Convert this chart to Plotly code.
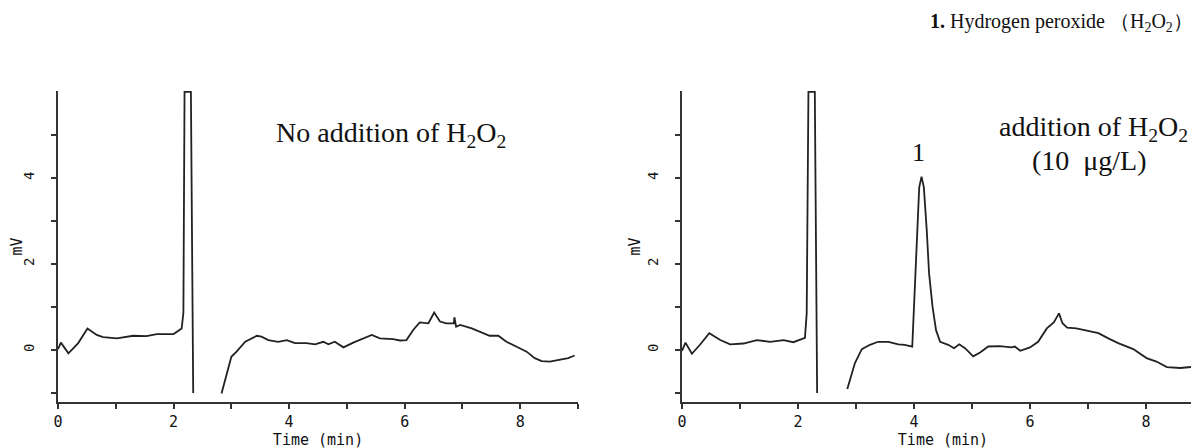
import plotly.graph_objs as go

# Chromatogram without H2O2 (time in min, signal in mV); None = off-scale gap
left_time = [0, 0.05, 0.18, 0.35, 0.51, 0.67, 0.78, 1.02, 1.3, 1.53, 1.71, 2.0, 2.14, 2.17, 2.19, 2.30, 2.34,
             2.6,
             2.83, 3.0, 3.09, 3.24, 3.44, 3.52, 3.64, 3.81, 3.96, 4.10, 4.30, 4.45, 4.59, 4.68, 4.79, 4.94,
             5.11, 5.28, 5.43, 5.57, 5.80, 5.92, 6.03, 6.15, 6.26, 6.41, 6.51, 6.61, 6.72, 6.85, 6.86, 6.89,
             6.96, 7.16, 7.30, 7.47, 7.62, 7.76, 7.99, 8.11, 8.25, 8.37, 8.51, 8.71, 8.83, 8.94]
left_mv = [0.02, 0.17, -0.08, 0.16, 0.5, 0.35, 0.3, 0.27, 0.33, 0.32, 0.37, 0.37, 0.5, 0.86, 6.0, 6.0, -1.0,
           None,
           -1.01, -0.16, -0.04, 0.19, 0.33, 0.31, 0.23, 0.19, 0.23, 0.16, 0.16, 0.13, 0.19, 0.13, 0.19, 0.06,
           0.17, 0.27, 0.35, 0.27, 0.25, 0.22, 0.23, 0.47, 0.64, 0.62, 0.87, 0.66, 0.62, 0.62, 0.76, 0.54,
           0.58, 0.50, 0.43, 0.33, 0.33, 0.19, 0.04, -0.04, -0.19, -0.26, -0.27, -0.23, -0.19, -0.13]

# Chromatogram with H2O2 added (10 ug/L)
right_time = [0, 0.06, 0.17, 0.31, 0.47, 0.66, 0.83, 1.06, 1.29, 1.52, 1.75, 1.92, 2.12, 2.15, 2.18, 2.29, 2.33,
              2.6,
              2.85, 2.98, 3.10, 3.24, 3.38, 3.56, 3.73, 3.84, 3.97, 4.02, 4.06, 4.09, 4.13, 4.17, 4.22, 4.26,
              4.32, 4.38, 4.45, 4.59, 4.69, 4.78, 4.88, 5.02, 5.14, 5.28, 5.48, 5.68, 5.74, 5.83, 6.0, 6.14,
              6.29, 6.41, 6.50, 6.56, 6.64, 6.80, 6.98, 7.18, 7.35, 7.52, 7.78, 8.01, 8.18, 8.36, 8.59, 8.82, 8.95]
right_mv = [-0.02, 0.17, -0.09, 0.12, 0.39, 0.23, 0.13, 0.15, 0.23, 0.19, 0.23, 0.18, 0.28, 0.85, 6.0, 6.0, -1.0,
            None,
            -0.91, -0.31, 0.02, 0.12, 0.19, 0.19, 0.13, 0.12, 0.08, 1.62, 3.16, 3.78, 4.03, 3.78, 2.78, 1.78,
            1.0, 0.46, 0.19, 0.12, 0.04, 0.13, 0.04, -0.15, -0.06, 0.08, 0.09, 0.06, 0.08, -0.02, 0.06, 0.19,
            0.5, 0.64, 0.85, 0.62, 0.52, 0.5, 0.45, 0.39, 0.27, 0.16, 0.02, -0.19, -0.27, -0.4, -0.42, -0.39, -0.35]

x_ticks = list(range(0, 10))
x_labels = ['0', '', '2', '', '4', '', '6', '', '8', '']
y_ticks = list(range(-1, 6))
y_labels = ['', '0', '', '2', '', '4', '']

x_font = dict(family='DejaVu Sans Mono, monospace', size=15, color='#111')
y_font = dict(family='DejaVu Sans Mono, monospace', size=14, color='#111')
mv_font = dict(family='DejaVu Sans Mono, monospace', size=15, color='#111')
serif = 'Liberation Serif, Times New Roman, serif'
line_color = '#222'

fig = go.Figure()

fig.add_trace(go.Scatter(x=left_time, y=left_mv, mode='lines', connectgaps=False,
                         line=dict(color=line_color, width=1.8), xaxis='x', yaxis='y'))
fig.add_trace(go.Scatter(x=right_time, y=right_mv, mode='lines', connectgaps=False,
                         line=dict(color=line_color, width=1.8), xaxis='x2', yaxis='y2'))


def x_axis(domain, anchor):
    return dict(domain=domain, range=[0, 9], anchor=anchor, showgrid=False, zeroline=False, automargin=False,
                showline=True, linecolor='#333', linewidth=1.6,
                ticks='outside', ticklen=5, tickwidth=1.6, tickcolor='#333',
                tickvals=x_ticks, ticktext=x_labels, tickfont=x_font,
                title=dict(text='Time (min)', font=x_font, standoff=0))


def y_axis(anchor):
    return dict(domain=[0, 1], range=[-1.21, 6.02], anchor=anchor, showgrid=False, zeroline=False,
                automargin=False, showline=True, linecolor='#333', linewidth=1.6,
                ticks='outside', ticklen=5, tickwidth=1.6, tickcolor='#333',
                tickvals=y_ticks, ticktext=y_labels, tickfont=y_font, tickangle=-90,
                ticklabelstandoff=12,
                title=dict(text='mV', font=mv_font, standoff=0))


# the page body adds an 8 px offset, margins below account for it
fig.update_layout(
    width=1199,
    height=448,
    margin=dict(l=50, r=3, t=83, b=54),
    plot_bgcolor='white',
    paper_bgcolor='white',
    showlegend=False,
    xaxis=x_axis([0, 0.4538], 'y'),
    yaxis=y_axis('x'),
    xaxis2=x_axis([0.5445, 1.0], 'y2'),
    yaxis2=y_axis('x2'),
    annotations=[
        dict(text='<b>1.</b> Hydrogen peroxide （H<sub>2</sub>O<sub>2</sub>）', xref='paper', yref='paper',
             x=0.9921, y=1.0, yshift=69, xanchor='right', yanchor='middle', showarrow=False,
             font=dict(family=serif, size=20, color='#111')),
        dict(text='No addition of H<sub>2</sub>O<sub>2</sub>', xref='x', yref='y',
             x=5.76, y=5.0, xanchor='center', yanchor='middle', showarrow=False,
             font=dict(family=serif, size=28, color='#111')),
        dict(text='addition of H<sub>2</sub>O<sub>2</sub>', xref='x2', yref='y2',
             x=7.09, y=5.14, xanchor='center', yanchor='middle', showarrow=False,
             font=dict(family=serif, size=28, color='#111')),
        dict(text='(10  μg/L)', xref='x2', yref='y2',
             x=7.03, y=4.40, xanchor='center', yanchor='middle', showarrow=False,
             font=dict(family=serif, size=28, color='#111')),
        dict(text='1', xref='x2', yref='y2', x=4.07, y=4.58, xanchor='center', yanchor='middle',
             showarrow=False, font=dict(family=serif, size=26, color='#111')),
    ],
)

fig.write_html("out.html")
